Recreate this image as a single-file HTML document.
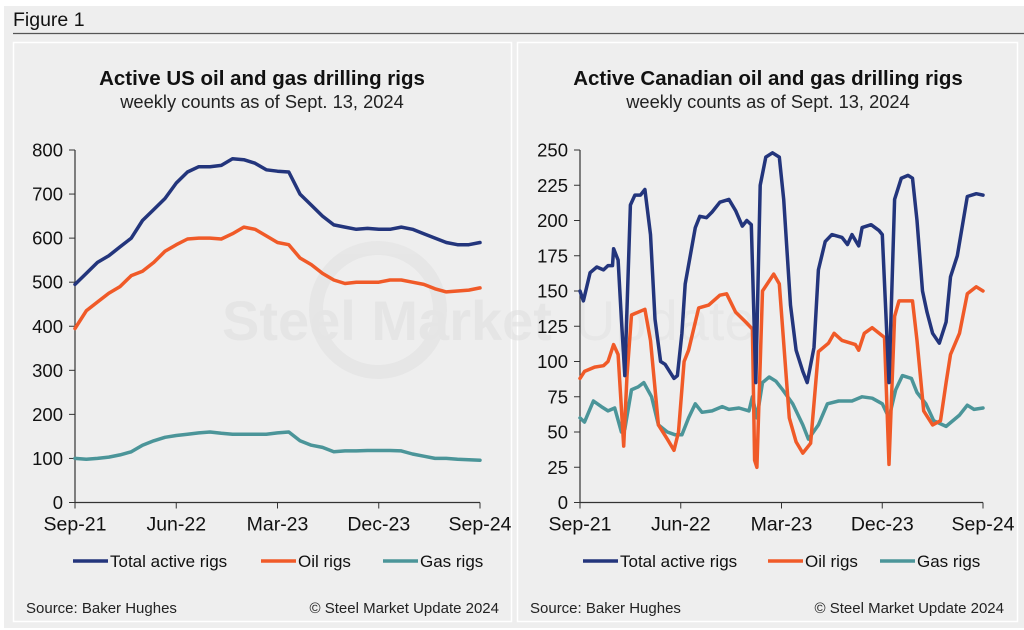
<!DOCTYPE html>
<html><head><meta charset="utf-8"><style>
html,body{margin:0;padding:0;background:#fff;width:1024px;height:630px;overflow:hidden;font-family:"Liberation Sans",sans-serif}
svg{display:block}
</style></head><body>
<svg id="fig" width="1024" height="630" xmlns="http://www.w3.org/2000/svg" font-family="Liberation Sans, sans-serif">
<rect x="4" y="6" width="1020" height="622" fill="#eeeeee"/>
<text x="13" y="26" font-size="19.5" fill="#111">Figure 1</text>
<line x1="13" y1="33.5" x2="1024" y2="33.5" stroke="#555" stroke-width="1.2"/>
<rect x="13.5" y="42.5" width="498" height="579" fill="#eeeeee" stroke="#fff" stroke-width="1.5"/>
<rect x="517.5" y="42.5" width="500" height="579" fill="#eeeeee" stroke="#fff" stroke-width="1.5"/>
<g opacity="0.6">
<circle cx="378" cy="310" r="62" fill="none" stroke="#e2e2e2" stroke-width="14"/>
<text x="222" y="340" font-size="56" font-weight="bold" fill="#e0e0e0">Steel Market</text>
<text x="575" y="340" font-size="56" fill="#e3e3e3">Update</text>
</g>
<text x="262" y="85" font-size="20.5" font-weight="bold" text-anchor="middle" fill="#111">Active US oil and gas drilling rigs</text>
<text x="262" y="108" font-size="18.3" text-anchor="middle" fill="#222">weekly counts as of Sept. 13, 2024</text>
<text x="768" y="85" font-size="20.5" font-weight="bold" text-anchor="middle" fill="#111">Active Canadian oil and gas drilling rigs</text>
<text x="768" y="108" font-size="18.3" text-anchor="middle" fill="#222">weekly counts as of Sept. 13, 2024</text>
<g id="us"></g>
<g id="ca"></g>
<text x="26" y="613" font-size="15" fill="#222">Source: Baker Hughes</text>
<text x="499" y="613" font-size="15" fill="#222" text-anchor="end">© Steel Market Update 2024</text>
<text x="530" y="613" font-size="15" fill="#222">Source: Baker Hughes</text>
<text x="1004" y="613" font-size="15" fill="#222" text-anchor="end">© Steel Market Update 2024</text>
</svg>
<script>
const xTickLabels = ["Sep-21","Jun-22","Mar-23","Dec-23","Sep-24"];
const xTickMonths = [0,9,18,27,36];
const usTicks = [0,100,200,300,400,500,600,700,800];
const caTicks = [0,25,50,75,100,125,150,175,200,225,250];
const seriesNames = ["Total active rigs","Oil rigs","Gas rigs"];
const seriesColors = ["#23357c","#f05a28","#4b9599"];

const usMonths = [0,1,2,3,4,5,6,7,8,9,10,11,12,13,14,15,16,17,18,19,20,21,22,23,24,25,26,27,28,29,30,31,32,33,34,35,36];
const usTotal = [495,520,545,560,580,600,640,665,690,725,750,762,762,765,780,778,770,755,752,750,700,675,650,630,625,620,622,620,620,625,620,610,600,590,585,585,590];
const usOil = [395,435,455,475,490,515,525,545,570,585,598,600,600,598,610,625,620,605,590,585,555,540,520,505,497,500,500,500,505,505,500,495,485,478,480,482,487];
const usGas = [100,98,100,103,108,115,130,140,148,152,155,158,160,157,155,155,155,155,158,160,140,130,125,115,117,117,118,118,118,117,110,105,100,100,98,97,96];

const caTotalMonths = [0,0.3,0.9,1.5,2.1,2.5,2.9,3.0,3.4,3.7,4.0,4.5,4.9,5.4,5.8,6.3,6.7,7.2,7.6,8.4,8.7,9.1,9.4,10.3,10.7,11.3,11.8,12.5,13.3,13.9,14.5,14.9,15.3,15.7,16.1,16.6,17.2,17.8,18.2,18.8,19.3,19.9,20.3,20.9,21.3,21.9,22.5,23.4,23.9,24.3,24.9,25.2,26,26.7,27,27.6,28.1,28.7,29.3,29.7,30.1,30.6,31,31.5,32.1,32.7,33.1,33.7,34.6,35.4,36];
const caTotal = [150,143,163,167,165,168,168,180,172,130,90,211,218,218,222,190,130,100,98,88,90,120,155,195,203,202,206,213,215,207,196,200,197,85,225,245,248,245,215,140,108,93,85,110,165,185,190,188,183,190,182,195,197,193,190,85,215,230,232,230,200,150,135,120,113,128,160,175,217,219,218];
const caOilMonths = [0,0.4,1.3,2.1,2.5,3.0,3.4,3.9,4.2,4.6,5.8,6.3,7.0,7.8,8.4,8.8,9.3,9.7,10.6,11.5,12.5,13.1,13.9,14.8,15.4,15.6,15.8,16.3,17.3,17.8,18.7,19.3,19.9,20.6,21.3,22.2,22.7,23.4,24.6,24.9,25.4,26.1,27.2,27.6,28.1,28.5,29.7,30.1,30.7,31.5,32.2,32.7,33.1,33.9,34.6,35.4,36];
const caOil = [88,93,96,97,100,112,105,40,90,133,137,115,55,45,37,50,100,108,138,140,147,148,135,128,123,30,25,150,162,155,60,43,35,42,107,113,120,115,112,108,120,124,117,27,132,143,143,115,65,55,58,85,105,120,148,153,150];
const caGasMonths = [0,0.4,1.2,1.9,2.5,3.1,3.7,4.0,4.6,5.2,5.7,6.4,7.0,7.8,8.5,9.1,9.7,10.3,10.9,11.8,12.7,13.3,14.2,15.1,15.4,15.8,16.3,16.9,17.5,18.1,19.0,19.9,20.4,21.3,22.1,23.1,24.3,25.2,26.1,27.0,27.6,28.2,28.8,29.6,30.1,30.9,31.6,32.7,33.9,34.6,35.2,36];
const caGas = [60,57,72,68,65,67,50,52,80,82,85,75,55,50,48,48,60,70,64,65,68,66,67,65,75,60,85,89,86,80,70,55,45,55,70,72,72,75,74,70,60,80,90,88,78,70,58,54,62,69,66,67];

const NS="http://www.w3.org/2000/svg";
function mk(tag, attrs, parent){const e=document.createElementNS(NS,tag);for(const k in attrs)e.setAttribute(k,attrs[k]);parent.appendChild(e);return e;}

function drawChart(g, cfg){
  const x = m => cfg.x0 + (m/36)*(cfg.x1-cfg.x0);
  const y = v => cfg.y0 - (v/cfg.max)*(cfg.y0-cfg.y1);
  cfg.ticks.forEach(t=>{
    const tl = mk('line',{x1:cfg.x0-6,x2:cfg.x0,y1:y(t),y2:y(t),stroke:'#333','stroke-width':1},g);
    
    
    const tx = mk('text',{x:cfg.x0-12,y:y(t)+6.5,'font-size':18.5,'text-anchor':'end',fill:'#111'},g);
    tx.textContent=t;
    
    
  });
  xTickMonths.forEach((m,i)=>{
    const tl = mk('line',{x1:x(m),x2:x(m),y1:cfg.y0,y2:cfg.y0+6,stroke:'#333','stroke-width':1},g);
    
    
    const tx = mk('text',{x:x(m),y:cfg.y0+28,'font-size':19.5,'text-anchor':'middle',fill:'#111'},g);
    tx.textContent=xTickLabels[i];
    
    
  });
  const ya = mk('line',{x1:cfg.x0,x2:cfg.x0,y1:cfg.y1,y2:cfg.y0,stroke:'#333','stroke-width':1.2},g);
  
  
  const xa = mk('line',{x1:cfg.x0,x2:cfg.x1,y1:cfg.y0,y2:cfg.y0,stroke:'#333','stroke-width':1.2},g);
  
  
  const names=['total-rigs-line','oil-rigs-line','gas-rigs-line'];
  [2,1,0].forEach(i=>{
    const s=cfg.series[i];
    const d=s[1].map((v,j)=>(j?'L':'M')+x(s[0][j]).toFixed(1)+','+y(v).toFixed(1)).join('');
    const p=mk('path',{d:d,fill:'none',stroke:seriesColors[i],'stroke-width':3.5,'stroke-linejoin':'round','stroke-linecap':'round'},g);
    
    
  });
  cfg.legendX.forEach((lx,i)=>{
    const l=mk('line',{x1:lx,x2:lx+35,y1:561,y2:561,stroke:seriesColors[i],'stroke-width':3.5},g);
    
    
    const t=mk('text',{x:lx+37,y:567,'font-size':17,fill:'#111'},g);
    t.textContent=seriesNames[i];
    
    
  });
}
drawChart(document.getElementById('us'),{x0:75,x1:480,y0:502.5,y1:150,max:800,ticks:usTicks,
  series:[[usMonths,usTotal],[usMonths,usOil],[usMonths,usGas]],legendX:[73,261,383]});
drawChart(document.getElementById('ca'),{x0:580,x1:983,y0:502.5,y1:150,max:250,ticks:caTicks,
  series:[[caTotalMonths,caTotal],[caOilMonths,caOil],[caGasMonths,caGas]],legendX:[583,768,880]});
</script>
</body></html>
